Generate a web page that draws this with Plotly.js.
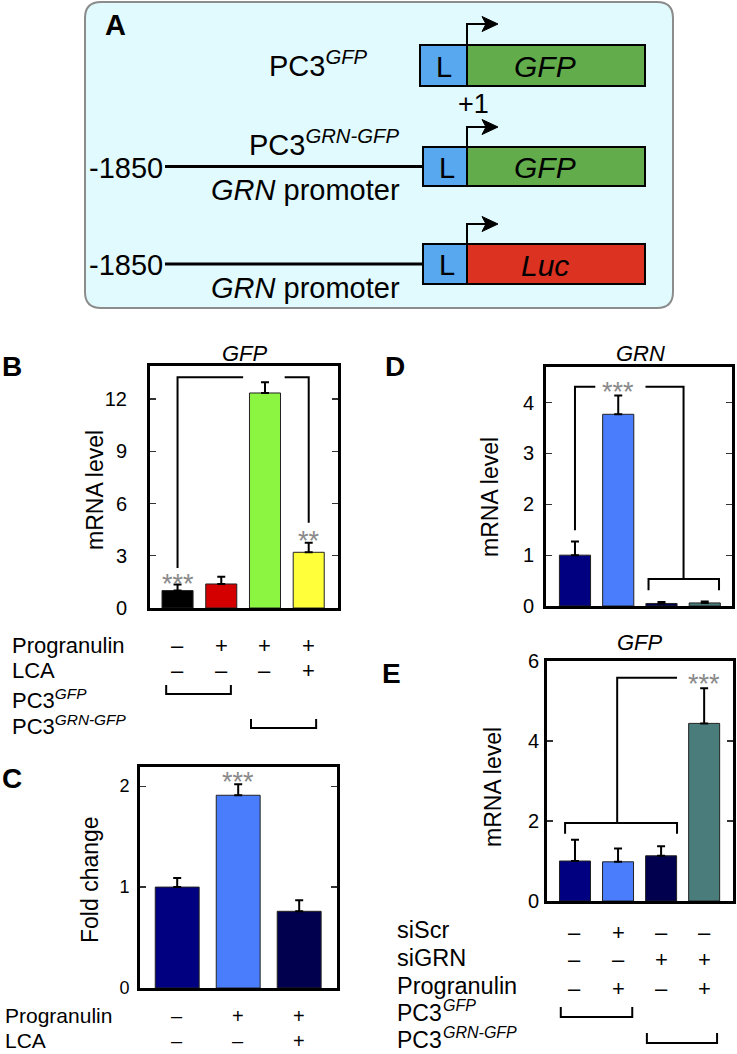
<!DOCTYPE html>
<html>
<head>
<meta charset="utf-8">
<script src="https://cdn.plot.ly/plotly-3.0.1.min.js"></script>
<style>html,body{margin:0;padding:0;background:#fff;}#chart{width:737px;height:1054px;}</style>
</head>
<body>
<div id="chart"></div>
<script>
// ---------------- DATA ----------------
// Panel B: GFP mRNA level
const bCategories = ['PC3GFP', 'PC3GFP + Progranulin', 'PC3GRN-GFP + Progranulin', 'PC3GRN-GFP + Progranulin + LCA'];
const bValues = [1.0, 1.38, 12.35, 3.2];
const bErrors = [0.35, 0.42, 0.62, 0.55];
const bProgranulin = ['–', '+', '+', '+'];
const bLCA = ['–', '–', '–', '+'];
const bTicks = [0, 3, 6, 9, 12];

// Panel C: fold change
const cCategories = ['Control', 'Progranulin', 'Progranulin + LCA'];
const cValues = [1.0, 1.91, 0.76];
const cErrors = [0.09, 0.11, 0.11];
const cProgranulin = ['–', '+', '+'];
const cLCA = ['–', '–', '+'];
const cTicks = [0, 1, 2];

// Panel D: GRN mRNA level
const dCategories = ['PC3GFP', 'PC3GFP + Progranulin', 'PC3GRN-GFP siGRN', 'PC3GRN-GFP siGRN + Progranulin'];
const dValues = [1.0, 3.77, 0.05, 0.06];
const dErrors = [0.27, 0.37, 0.03, 0.03];
const dTicks = [0, 1, 2, 3, 4];

// Panel E: GFP mRNA level
const eCategories = ['PC3GFP', 'PC3GFP + siScr + Progranulin', 'PC3GRN-GFP + siGRN', 'PC3GRN-GFP + siGRN + Progranulin'];
const eValues = [1.0, 0.98, 1.13, 4.44];
const eErrors = [0.53, 0.33, 0.24, 0.88];
const eSiScr = ['–', '+', '–', '–'];
const eSiGRN = ['–', '–', '+', '+'];
const eProgranulin = ['–', '+', '–', '+'];
const eTicks = [0, 2, 4, 6];

// ---------------- STYLE ----------------
const W = 737, H = 1054;
const FONT = 'Liberation Sans, Arial, Helvetica, sans-serif';
const px = x => x / W;
const py = y => 1 - y / H;
const bColors = ['#000000', '#d40000', '#8cf542', '#ffff3a'];
const blueColors = ['#000080', '#4a7dfc', '#00004f', '#4a7c7c'];

function barTrace(cats, vals, errs, colors, width, xa, ya) {
  return {
    type: 'bar', x: cats.map((_, i) => i), y: vals, text: cats, hoverinfo: 'text+y',
    textposition: 'none', width: width,
    marker: {color: colors.slice(0, vals.length), line: {color: '#222', width: 1}},
    error_y: {type: 'data', symmetric: false, array: errs, arrayminus: errs.map(() => 0),
              color: '#000', thickness: 2, width: 4},
    xaxis: xa, yaxis: ya, showlegend: false
  };
}

const traces = [
  barTrace(bCategories, bValues, bErrors, bColors, 0.71, 'x', 'y'),
  barTrace(cCategories, cValues, cErrors, [blueColors[0], blueColors[1], blueColors[2]], 0.72, 'x2', 'y2'),
  barTrace(dCategories, dValues, dErrors, blueColors, 0.72, 'x3', 'y3'),
  barTrace(eCategories, eValues, eErrors, blueColors, 0.72, 'x4', 'y4')
];

function xAx(l, r, range) {
  return {domain: [px(l), px(r)], range: range, showline: true, linecolor: '#000', linewidth: 3,
          mirror: true, ticks: '', showticklabels: false, showgrid: false, zeroline: false, fixedrange: true};
}
function yAx(anchor, t, b, range, ticks, size, standoff) {
  return {anchor: anchor, domain: [py(b), py(t)], range: range, showline: true, linecolor: '#000',
          linewidth: 3, mirror: 'ticks', ticks: 'inside', ticklen: 6, tickwidth: 1.2, tickcolor: '#333',
          tickmode: 'array', tickvals: ticks, ticktext: ticks.map(String), ticklabelstandoff: standoff,
          tickfont: {family: FONT, size: size, color: '#000'}, showgrid: false, zeroline: false, fixedrange: true};
}

const layout = {
  width: W, height: H, margin: {l: 0, r: 0, t: 0, b: 0}, paper_bgcolor: '#fff', plot_bgcolor: 'rgba(0,0,0,0)',
  font: {family: FONT, color: '#000'}, showlegend: false, bargap: 0,
  xaxis: xAx(150, 338, [-0.63, 3.67]),
  yaxis: yAx('x', 366, 608, [0, 13.9], bTicks, 20, 16),
  xaxis2: Object.assign(xAx(140, 337, [-0.61, 2.62]), {anchor: 'y2'}),
  yaxis2: yAx('x2', 767, 988, [0, 2.19], cTicks, 18, 4),
  xaxis3: Object.assign(xAx(546, 732, [-0.67, 3.63]), {anchor: 'y3'}),
  yaxis3: yAx('x3', 367, 606, [0, 4.7], dTicks, 20, 5),
  xaxis4: Object.assign(xAx(547, 733, [-0.65, 3.67]), {anchor: 'y4'}),
  yaxis4: yAx('x4', 661, 901, [0, 6], eTicks, 20, 1),
  shapes: [], annotations: []
};
layout.xaxis.anchor = 'y';

const S = layout.shapes, A = layout.annotations;

function ann(text, x, y, o) {
  A.push(Object.assign({text: text, x: px(x), y: py(y), xref: 'paper', yref: 'paper', showarrow: false,
    xanchor: 'center', yanchor: 'middle', font: {family: FONT, size: 22, color: '#000'}}, o || {}));
}
function fnt(size, extra) { return Object.assign({family: FONT, size: size, color: '#000'}, extra || {}); }
const P = (x, y) => px(x) + ',' + py(y);

// ---------------- PANEL A ----------------
const r = 16, L0 = 85, R0 = 673, T0 = 2, B0 = 308;
S.push({type: 'path', xref: 'paper', yref: 'paper', layer: 'below',
  path: 'M' + P(L0 + r, T0) + ' L' + P(R0 - r, T0) + ' Q' + P(R0, T0) + ' ' + P(R0, T0 + r) +
        ' L' + P(R0, B0 - r) + ' Q' + P(R0, B0) + ' ' + P(R0 - r, B0) + ' L' + P(L0 + r, B0) +
        ' Q' + P(L0, B0) + ' ' + P(L0, B0 - r) + ' L' + P(L0, T0 + r) + ' Q' + P(L0, T0) + ' ' + P(L0 + r, T0) + ' Z',
  fillcolor: '#e0fafd', line: {color: '#8c8c8c', width: 2}});

function rect(x0, y0, x1, y1, fill) {
  S.push({type: 'rect', xref: 'paper', yref: 'paper', x0: px(x0), x1: px(x1), y0: py(y1), y1: py(y0),
          fillcolor: fill, line: {color: '#000', width: 2}});
}
function line(pts, w) {
  S.push({type: 'path', xref: 'paper', yref: 'paper', path: pts.map((p, i) => (i ? 'L' : 'M') + P(p[0], p[1])).join(' '),
          line: {color: '#000', width: w || 2}});
}
function arrow(top, yh) {
  line([[467, top], [467, yh], [488, yh]], 2);
  S.push({type: 'path', xref: 'paper', yref: 'paper',
    path: 'M' + P(482, yh - 7.5) + ' L' + P(498, yh) + ' L' + P(482, yh + 7.5) + ' L' + P(486, yh) + ' Z',
    fillcolor: '#000', line: {color: '#000', width: 1}});
}
const rows = [{t: 45, b: 86, lx: 420, arr: 24, fill: '#62ac4c', name: '<i>GFP</i>'},
              {t: 147, b: 186, lx: 423, arr: 127, fill: '#62ac4c', name: '<i>GFP</i>'},
              {t: 244, b: 284, lx: 423, arr: 224, fill: '#dc3222', name: '<i>Luc</i>'}];
rows.forEach((rw, i) => {
  rect(rw.lx, rw.t, 467, rw.b, '#57a8ee');
  rect(467, rw.t, 645, rw.b, rw.fill);
  arrow(rw.t, rw.arr);
  const cy = (rw.t + rw.b) / 2 + 1;
  ann('L', rw.lx + 24, cy, {font: fnt(29)});
  ann(rw.name, 545, cy, {font: fnt(30)});
  if (i > 0) {
    line([[165, cy - 1], [rw.lx, cy - 1]], 3);
    ann('-1850', 87, cy, {xanchor: 'left', font: fnt(29)});
    ann('<i>GRN</i> promoter', 305, rw.b + 4, {font: fnt(29)});
  }
});
ann('<b>A</b>', 115, 25, {font: fnt(29)});
ann('PC3<sup><i>GFP</i></sup>', 267, 64, {xanchor: 'left', font: fnt(29)});
ann('+1', 474, 104, {font: fnt(27)});
ann('PC3<sup><i>GRN-GFP</i></sup>', 247, 143, {xanchor: 'left', font: fnt(29)});

// ---------------- CHART ANNOTATIONS ----------------
const STAR = {font: fnt(27, {color: '#8a8a8a'}), yshift: -6, showarrow: false, xanchor: 'center', yanchor: 'middle'};
function dataText(text, xa, ya, x, y, o) {
  A.push(Object.assign({text: text, xref: xa, yref: ya, x: x, y: y}, STAR, o || {}));
}
function bracketData(xa, ya, path) {
  S.push({type: 'path', xref: xa, yref: ya, path: path, line: {color: '#000', width: 2}});
}
function signRow(xa, signs, y, size) {
  signs.forEach((s, i) => A.push({text: s, xref: xa, yref: 'paper', x: i, y: py(y), showarrow: false,
    xanchor: 'center', yanchor: 'middle', font: fnt(size || 22)}));
}
function groupBracket(xa, x0, x1, top, bot) {
  S.push({type: 'path', xref: xa, yref: 'paper',
    path: 'M' + x0 + ',' + py(top) + ' L' + x0 + ',' + py(bot) + ' L' + x1 + ',' + py(bot) + ' L' + x1 + ',' + py(top),
    line: {color: '#000', width: 2}});
}

// B
ann('<b>B</b>', 12, 367, {font: fnt(28)});
ann('<i>GFP</i>', 245, 353, {font: fnt(22)});
ann('mRNA level', 95, 490, {textangle: -90, font: fnt(23)});
dataText('***', 'x', 'y', 0, 1.75);
dataText('**', 'x', 'y', 3, 4.2);
bracketData('x', 'y', 'M0,2.3 V13.25 H1.5 M2.45,13.25 H3 V4.9');
ann('Progranulin', 10, 645, {xanchor: 'left'});
ann('LCA', 10, 670, {xanchor: 'left'});
ann('PC3<sup><i>GFP</i></sup>', 10, 699, {xanchor: 'left'});
ann('PC3<sup><i>GRN-GFP</i></sup>', 10, 725, {xanchor: 'left'});
signRow('x', bProgranulin, 645);
signRow('x', bLCA, 670);
groupBracket('x', -0.26, 1.22, 685, 694);
groupBracket('x', 1.68, 3.17, 719, 728);

// C
ann('<b>C</b>', 12, 778, {font: fnt(28)});
ann('Fold change', 90, 880, {textangle: -90, font: fnt(23)});
dataText('***', 'x2', 'y2', 1, 2.1);
ann('Progranulin', 3, 1015, {xanchor: 'left', font: fnt(21)});
ann('LCA', 3, 1040, {xanchor: 'left', font: fnt(21)});
signRow('x2', cProgranulin, 1016, 20);
signRow('x2', cLCA, 1041, 20);

// D
ann('<b>D</b>', 395, 367, {font: fnt(28)});
ann('<i>GRN</i>', 640, 353, {font: fnt(22)});
ann('mRNA level', 490, 497, {textangle: -90, font: fnt(23)});
dataText('***', 'x3', 'y3', 1, 4.33);
bracketData('x3', 'y3', 'M0,1.49 V4.31 H0.47 M1.63,4.31 H2.51 V0.53 M1.7,0.31 V0.53 H3.33 V0.31');

// E
ann('<b>E</b>', 391, 673, {font: fnt(28)});
ann('<i>GFP</i>', 640, 642, {font: fnt(22)});
ann('mRNA level', 493, 787, {textangle: -90, font: fnt(23)});
dataText('***', 'x4', 'y4', 3, 5.58);
bracketData('x4', 'y4', 'M-0.23,1.68 V1.95 H2.37 V1.68 M0.98,1.95 V5.58 H2.37');
ann('siScr', 395, 930, {xanchor: 'left', font: fnt(23.5)});
ann('siGRN', 395, 958, {xanchor: 'left', font: fnt(23.5)});
ann('Progranulin', 395, 986, {xanchor: 'left', font: fnt(23.5)});
ann('PC3', 395, 1013, {xanchor: 'left', font: fnt(23)});
ann('<i>GFP</i>', 441, 1005, {xanchor: 'left', font: fnt(16)});
ann('PC3', 395, 1040, {xanchor: 'left', font: fnt(23)});
ann('<i>GRN-GFP</i>', 441, 1032, {xanchor: 'left', font: fnt(16)});
signRow('x4', eSiScr, 932);
signRow('x4', eSiGRN, 959);
signRow('x4', eProgranulin, 988);
groupBracket('x4', -0.33, 1.33, 1007, 1017);
groupBracket('x4', 1.67, 3.3, 1033, 1043);

Plotly.newPlot('chart', traces, layout, {staticPlot: true, displayModeBar: false});
</script>
</body>
</html>
